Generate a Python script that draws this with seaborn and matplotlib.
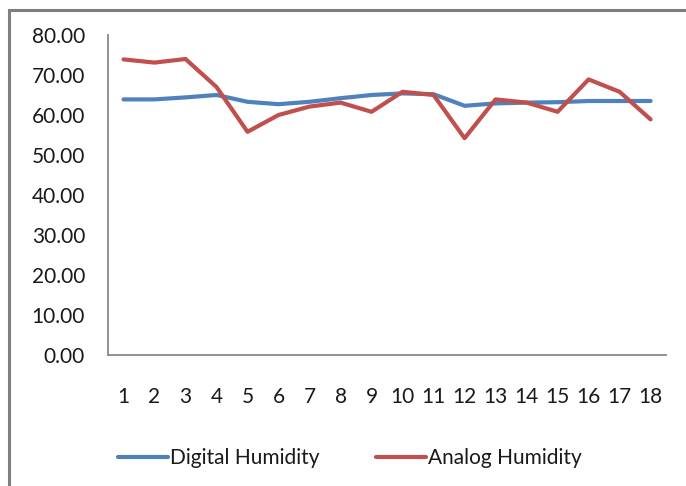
import matplotlib
matplotlib.use("Agg")
import matplotlib.pyplot as plt
import seaborn as sns
import pandas as pd
from matplotlib.patches import Rectangle

samples = list(range(1, 19))
digital = [63.9, 63.9, 64.4, 65.0, 63.3, 62.7, 63.3, 64.2, 65.0, 65.4, 65.2, 62.3, 62.9, 63.1, 63.2, 63.5, 63.5, 63.5]
analog = [73.9, 73.1, 74.0, 67.0, 55.8, 60.0, 62.1, 63.1, 60.8, 65.8, 65.0, 54.2, 63.9, 63.1, 60.8, 68.9, 65.8, 58.9]
series_names = ["Digital Humidity", "Analog Humidity"]
y_ticks = [0, 10, 20, 30, 40, 50, 60, 70, 80]

df = pd.DataFrame({
    "Sample": samples * 2,
    "Humidity": digital + analog,
    "Series": [series_names[0]] * len(samples) + [series_names[1]] * len(samples),
})

sns.set_style("white")
plt.rcParams["font.family"] = ["Lato", "DejaVu Sans"]

fig = plt.figure(figsize=(6.86, 4.86), dpi=100)
ax = fig.add_axes([0.1574, 0.2695, 0.8136, 0.6585])

palette = {series_names[0]: "#4F81BD", series_names[1]: "#C0504D"}
sns.lineplot(data=df, x="Sample", y="Humidity", hue="Series", palette=palette,
             linewidth=3, ax=ax, legend=True)

fs = 15
ax.set_xlim(0.5, 18.5)
ax.set_ylim(0, 80)
ax.set_xticks(samples)
ax.set_xticklabels([str(s) for s in samples], fontsize=fs)
ax.set_yticks(y_ticks)
ax.set_yticklabels([f"{v:.2f}" for v in y_ticks], fontsize=fs)
ax.tick_params(axis="both", length=0, labelcolor="#1a1a1a")
ax.tick_params(axis="x", pad=23)
ax.tick_params(axis="y", pad=16.5)
ax.set_xlabel("")
ax.set_ylabel("")
for side in ["top", "right"]:
    ax.spines[side].set_visible(False)
for side in ["left", "bottom"]:
    ax.spines[side].set_color("#888888")
    ax.spines[side].set_linewidth(1.3)

handles, labels = ax.get_legend_handles_labels()
ax.get_legend().remove()
leg = fig.legend(handles, labels, loc="center", bbox_to_anchor=(0.51, 0.057), ncol=2,
                 frameon=False, fontsize=fs, handlelength=2.4, handletextpad=0.08,
                 columnspacing=2.7)
for t in leg.get_texts():
    t.set_color("#1a1a1a")

fig.patches.append(Rectangle((9 / 686, -0.1), 1.2, 1 - 10 / 486 + 0.1,
                             transform=fig.transFigure, fill=False,
                             edgecolor="#7f7f7f", linewidth=2.2))

fig.savefig("out.png", dpi=100)
